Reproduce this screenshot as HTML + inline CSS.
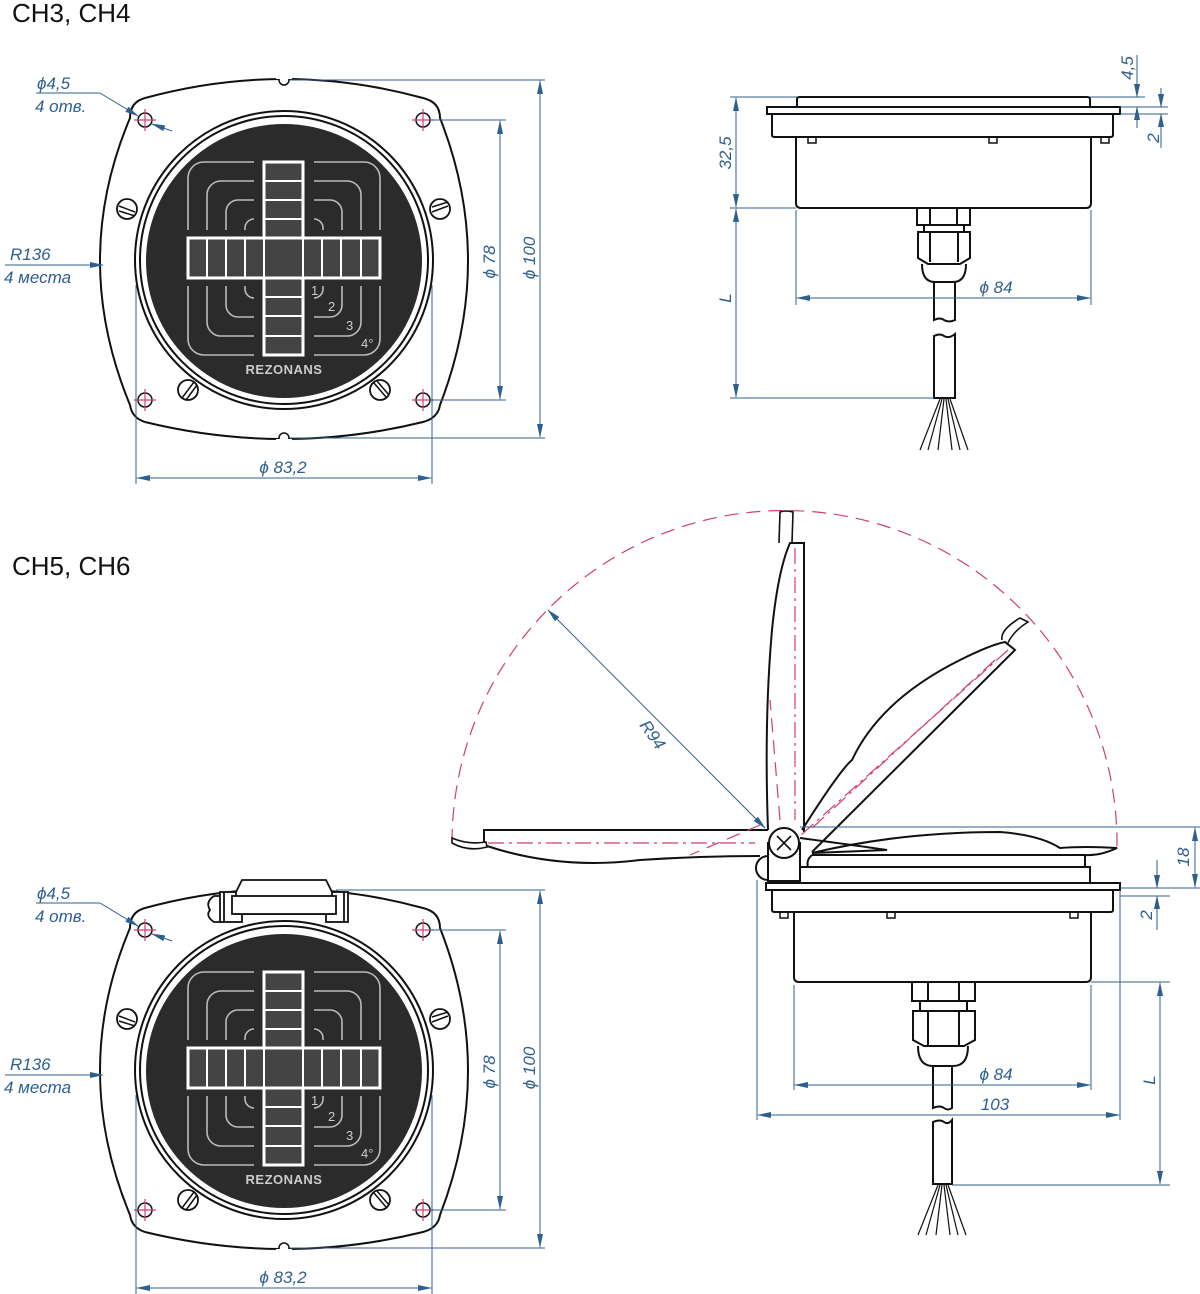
<!DOCTYPE html>
<html><head><meta charset="utf-8"><style>
html,body{margin:0;padding:0;background:#fff;}
svg{display:block;}
.k{fill:none;stroke:#111;stroke-width:2;}
.kt{fill:none;stroke:#111;stroke-width:1.2;}
.d{fill:none;stroke:#2f5f8f;stroke-width:1;}
.p{fill:none;stroke:#d23c78;stroke-width:1.2;}
.pd{fill:none;stroke:#d23c78;stroke-width:1.2;stroke-dasharray:14 8;}
.pdd{fill:none;stroke:#d23c78;stroke-width:1.2;stroke-dasharray:16 5 3 5;}
.t{font-family:"Liberation Sans",sans-serif;font-style:italic;font-size:17px;fill:#2f5f8f;}
.h{font-family:"Liberation Sans",sans-serif;font-size:26px;fill:#111;}
.br{fill:none;stroke:#bbb;stroke-width:1.6;}
.a{fill:#2f5f8f;}
</style></head><body>
<svg width="1200" height="1294" viewBox="0 0 1200 1294" xmlns="http://www.w3.org/2000/svg">
<defs>
<marker id="ar" markerWidth="14" markerHeight="6" refX="13" refY="3" orient="auto-start-reverse" markerUnits="userSpaceOnUse"><path d="M0,0 L14,3 L0,6 z" fill="#2f5f8f"/></marker>
</defs>

<text class="h" x="12" y="22">CH3, CH4</text>
<text class="h" x="12" y="575">CH5, CH6</text>

<!-- ===== FRONT VIEW TOP ===== -->
<g id="fv1">
<path class="k" d="M145,98 Q284,60 423,98 Q440,102 440,118 Q496,260 440,405 Q438,418 423,422 Q284,456 145,422 Q132,418 130,405 Q70,260 130,118 Q130,102 145,98 Z"/>
<circle cx="284" cy="80" r="5" fill="#fff" stroke="#111" stroke-width="1.5"/>
<rect x="276" y="70" width="16" height="9" fill="#fff"/>
<circle cx="284" cy="438" r="5" fill="#fff" stroke="#111" stroke-width="1.5"/>
<rect x="276" y="439" width="16" height="9" fill="#fff"/>
<ellipse cx="284" cy="260" rx="149" ry="149" class="k"/>
<ellipse cx="284" cy="260" rx="144" ry="144" class="k"/>
<ellipse cx="284" cy="261" rx="138" ry="137" fill="#2b2b2b"/>
<g class="br">
<rect x="188" y="162" width="192" height="193" rx="16"/>
<rect x="207" y="181" width="154" height="155" rx="14"/>
<rect x="226" y="200" width="116" height="117" rx="12"/>
<rect x="245" y="219" width="78" height="79" rx="9"/>
</g>
<rect x="254" y="154" width="60" height="210" fill="#2b2b2b"/>
<rect x="180" y="230" width="208" height="56" fill="#2b2b2b"/>
<rect x="264" y="162" width="39" height="193" fill="#444" stroke="#fff" stroke-width="3"/>
<rect x="188" y="238" width="192" height="40" fill="#444" stroke="#fff" stroke-width="3"/>
<g stroke="#fff" stroke-width="2">
<line x1="264" y1="181" x2="303" y2="181"/><line x1="264" y1="200" x2="303" y2="200"/><line x1="264" y1="219" x2="303" y2="219"/>
<line x1="264" y1="297" x2="303" y2="297"/><line x1="264" y1="316" x2="303" y2="316"/><line x1="264" y1="336" x2="303" y2="336"/>
<line x1="207" y1="238" x2="207" y2="278"/><line x1="226" y1="238" x2="226" y2="278"/><line x1="245" y1="238" x2="245" y2="278"/>
<line x1="322" y1="238" x2="322" y2="278"/><line x1="341" y1="238" x2="341" y2="278"/><line x1="361" y1="238" x2="361" y2="278"/>
<line x1="264" y1="238" x2="264" y2="278"/><line x1="303" y1="238" x2="303" y2="278"/>
</g>
<g font-family="Liberation Sans,sans-serif" font-size="13" fill="#ccc">
<text x="311" y="295">1</text><text x="328" y="311">2</text><text x="346" y="330">3</text><text x="361" y="348">4°</text>
</g>
<text x="284" y="374" text-anchor="middle" font-family="Liberation Sans,sans-serif" font-weight="bold" font-size="13" fill="#ccc" letter-spacing="0.5">REZONANS</text>
<g fill="#fff" stroke="#111" stroke-width="1.8">
<circle cx="127" cy="209" r="10"/><circle cx="440" cy="209" r="10"/><circle cx="188" cy="390" r="10"/><circle cx="380" cy="390" r="10"/>
</g>
<g stroke="#111" stroke-width="1.5">
<line x1="119" y1="206" x2="135" y2="212"/><line x1="119" y1="211" x2="135" y2="216"/>
<line x1="432" y1="212" x2="448" y2="206"/><line x1="432" y1="207" x2="448" y2="202"/>
<line x1="182" y1="398" x2="194" y2="382"/><line x1="186" y1="400" x2="197" y2="385"/>
<line x1="374" y1="383" x2="386" y2="397"/><line x1="377" y1="381" x2="389" y2="395"/>
</g>
<g fill="#fff" stroke="#111" stroke-width="1.5">
<circle cx="145" cy="120" r="7"/><circle cx="423" cy="120" r="7"/><circle cx="145" cy="400" r="7"/><circle cx="423" cy="400" r="7"/>
</g>
<g class="p">
<path d="M134,120 H156 M145,109 V131 M412,120 H434 M423,109 V131 M134,400 H156 M145,389 V411 M412,400 H434 M423,389 V411"/>
</g>
</g>

<!-- dims top front -->
<g class="d">
<line x1="36" y1="93" x2="100" y2="93"/>
<line x1="100" y1="93" x2="138" y2="116" marker-end="url(#ar)"/>
<line x1="152" y1="124" x2="172" y2="131" marker-start="url(#ar)"/>
<line x1="5" y1="265" x2="103" y2="265" marker-end="url(#ar)"/>
<line x1="290" y1="80" x2="545" y2="80"/>
<line x1="290" y1="438" x2="545" y2="438"/>
<line x1="430" y1="120" x2="506" y2="120"/>
<line x1="430" y1="400" x2="506" y2="400"/>
<line x1="500" y1="121" x2="500" y2="399" marker-start="url(#ar)" marker-end="url(#ar)"/>
<line x1="540" y1="81" x2="540" y2="437" marker-start="url(#ar)" marker-end="url(#ar)"/>
<line x1="136" y1="285" x2="136" y2="484"/>
<line x1="432" y1="285" x2="432" y2="484"/>
<line x1="137" y1="478" x2="431" y2="478" marker-start="url(#ar)" marker-end="url(#ar)"/>
</g>
<text class="t" x="37" y="89">ϕ4,5</text>
<text class="t" x="35" y="112">4 отв.</text>
<text class="t" x="10" y="260">R136</text>
<text class="t" x="4" y="283">4 места</text>
<text class="t" transform="translate(495,262) rotate(-90)" text-anchor="middle">ϕ 78</text>
<text class="t" transform="translate(535,258) rotate(-90)" text-anchor="middle">ϕ 100</text>
<text class="t" x="283" y="473" text-anchor="middle">ϕ 83,2</text>

<!-- ===== SIDE VIEW TOP ===== -->
<g class="k">
<path d="M797,107 V99 Q797,97 800,97 H1087 Q1090,97 1090,99 V107"/>
<rect x="767" y="107" width="353" height="7"/>
<path d="M772,114 V135 Q772,137 775,137 H1110 Q1113,137 1113,135 V114"/>
<path d="M796,137 V203 Q796,208 801,208 H1086 Q1091,208 1091,203 V137"/>
<path d="M808,137 V143 H816 V137 M989,137 V143 H997 V137 M1101,137 V143 H1109 V137" stroke-width="1.5"/>
<rect x="917" y="208" width="53" height="17"/>
<line x1="930" y1="208" x2="930" y2="225"/><line x1="957" y1="208" x2="957" y2="225"/>
<rect x="924" y="225" width="40" height="7"/>
<path d="M918,232 H970 V258 L960,264 H928 L918,258 Z"/>
<line x1="930" y1="232" x2="930" y2="262"/><line x1="958" y1="232" x2="958" y2="262"/>
<path d="M922,264 Q922,282 935,282 H953 Q966,282 966,264"/>
<path d="M934,282 V320 Q940,317 944,320 Q949,323 955,320 V282"/>
<path d="M934,398 V336 Q940,333 944,336 Q949,339 955,334 V398 Z"/>
</g>
<g class="kt">
<path d="M940,399 L920,450 M942,399 L928,450 M944,399 L938,450 M946,399 L952,450 M948,399 L960,450 M950,399 L968,450"/>
</g>
<g class="d">
<line x1="730" y1="97" x2="797" y2="97"/>
<line x1="730" y1="208" x2="796" y2="208"/>
<line x1="730" y1="398" x2="934" y2="398"/>
<line x1="736" y1="98" x2="736" y2="207" marker-start="url(#ar)" marker-end="url(#ar)"/>
<line x1="736" y1="209" x2="736" y2="397" marker-start="url(#ar)" marker-end="url(#ar)"/>
<line x1="796" y1="210" x2="796" y2="305"/>
<line x1="1091" y1="210" x2="1091" y2="305"/>
<line x1="797" y1="298" x2="1090" y2="298" marker-start="url(#ar)" marker-end="url(#ar)"/>
<line x1="1090" y1="97" x2="1145" y2="97"/>
<line x1="1120" y1="107" x2="1168" y2="107"/>
<line x1="1120" y1="114" x2="1168" y2="114"/>
<line x1="1137" y1="55" x2="1137" y2="97" marker-end="url(#ar)"/>
<line x1="1137" y1="128" x2="1137" y2="107" marker-end="url(#ar)"/>
<line x1="1161" y1="88" x2="1161" y2="107" marker-end="url(#ar)"/>
<line x1="1161" y1="148" x2="1161" y2="114" marker-end="url(#ar)"/>
</g>
<text class="t" transform="translate(731,153) rotate(-90)" text-anchor="middle">32,5</text>
<text class="t" transform="translate(731,298) rotate(-90)" text-anchor="middle">L</text>
<text class="t" x="996" y="293" text-anchor="middle">ϕ 84</text>
<text class="t" transform="translate(1133,68) rotate(-90)" text-anchor="middle">4,5</text>
<text class="t" transform="translate(1159,138) rotate(-90)" text-anchor="middle">2</text>

<!-- ===== FRONT VIEW BOTTOM ===== -->
<g transform="translate(0,810)">
<path class="k" d="M145,98 Q284,60 423,98 Q440,102 440,118 Q496,260 440,405 Q438,418 423,422 Q284,456 145,422 Q132,418 130,405 Q70,260 130,118 Q130,102 145,98 Z"/>
<circle cx="284" cy="438" r="5" fill="#fff" stroke="#111" stroke-width="1.5"/>
<rect x="276" y="439" width="16" height="9" fill="#fff"/>
<ellipse cx="284" cy="260" rx="149" ry="149" class="k"/>
<ellipse cx="284" cy="260" rx="144" ry="144" class="k"/>
<ellipse cx="284" cy="261" rx="138" ry="137" fill="#2b2b2b"/>
<g class="br">
<rect x="188" y="162" width="192" height="193" rx="16"/>
<rect x="207" y="181" width="154" height="155" rx="14"/>
<rect x="226" y="200" width="116" height="117" rx="12"/>
<rect x="245" y="219" width="78" height="79" rx="9"/>
</g>
<rect x="254" y="154" width="60" height="210" fill="#2b2b2b"/>
<rect x="180" y="230" width="208" height="56" fill="#2b2b2b"/>
<rect x="264" y="162" width="39" height="193" fill="#444" stroke="#fff" stroke-width="3"/>
<rect x="188" y="238" width="192" height="40" fill="#444" stroke="#fff" stroke-width="3"/>
<g stroke="#fff" stroke-width="2">
<line x1="264" y1="181" x2="303" y2="181"/><line x1="264" y1="200" x2="303" y2="200"/><line x1="264" y1="219" x2="303" y2="219"/>
<line x1="264" y1="297" x2="303" y2="297"/><line x1="264" y1="316" x2="303" y2="316"/><line x1="264" y1="336" x2="303" y2="336"/>
<line x1="207" y1="238" x2="207" y2="278"/><line x1="226" y1="238" x2="226" y2="278"/><line x1="245" y1="238" x2="245" y2="278"/>
<line x1="322" y1="238" x2="322" y2="278"/><line x1="341" y1="238" x2="341" y2="278"/><line x1="361" y1="238" x2="361" y2="278"/>
<line x1="264" y1="238" x2="264" y2="278"/><line x1="303" y1="238" x2="303" y2="278"/>
</g>
<g font-family="Liberation Sans,sans-serif" font-size="13" fill="#ccc">
<text x="311" y="295">1</text><text x="328" y="311">2</text><text x="346" y="330">3</text><text x="361" y="348">4°</text>
</g>
<text x="284" y="374" text-anchor="middle" font-family="Liberation Sans,sans-serif" font-weight="bold" font-size="13" fill="#ccc" letter-spacing="0.5">REZONANS</text>
<g fill="#fff" stroke="#111" stroke-width="1.8">
<circle cx="127" cy="209" r="10"/><circle cx="440" cy="209" r="10"/><circle cx="188" cy="390" r="10"/><circle cx="380" cy="390" r="10"/>
</g>
<g stroke="#111" stroke-width="1.5">
<line x1="119" y1="206" x2="135" y2="212"/><line x1="119" y1="211" x2="135" y2="216"/>
<line x1="432" y1="212" x2="448" y2="206"/><line x1="432" y1="207" x2="448" y2="202"/>
<line x1="182" y1="398" x2="194" y2="382"/><line x1="186" y1="400" x2="197" y2="385"/>
<line x1="374" y1="383" x2="386" y2="397"/><line x1="377" y1="381" x2="389" y2="395"/>
</g>
<g fill="#fff" stroke="#111" stroke-width="1.5">
<circle cx="145" cy="120" r="7"/><circle cx="423" cy="120" r="7"/><circle cx="145" cy="400" r="7"/><circle cx="423" cy="400" r="7"/>
</g>
<g class="p">
<path d="M134,120 H156 M145,109 V131 M412,120 H434 M423,109 V131 M134,400 H156 M145,389 V411 M412,400 H434 M423,389 V411"/>
</g>
<!-- hinge -->
<g stroke="#111" stroke-width="1.8" fill="#fff">
<path d="M214,86 Q205,92 210,100 Q205,106 214,112 H224 V86 Z"/>
<rect x="220" y="82" width="22" height="30"/>
<rect x="326" y="82" width="22" height="30"/>
<path d="M242,70 L236,82 V104 H332 V82 L326,70 Z"/>
<rect x="232" y="86" width="104" height="18"/>
<line x1="224" y1="82" x2="224" y2="112"/><line x1="344" y1="82" x2="344" y2="112"/>
</g>
</g>

<!-- dims bottom front -->
<g class="d">
<line x1="36" y1="903" x2="100" y2="903"/>
<line x1="100" y1="903" x2="138" y2="926" marker-end="url(#ar)"/>
<line x1="152" y1="934" x2="172" y2="941" marker-start="url(#ar)"/>
<line x1="5" y1="1075" x2="103" y2="1075" marker-end="url(#ar)"/>
<line x1="336" y1="890" x2="545" y2="890"/>
<line x1="290" y1="1248" x2="545" y2="1248"/>
<line x1="430" y1="930" x2="506" y2="930"/>
<line x1="430" y1="1210" x2="506" y2="1210"/>
<line x1="500" y1="931" x2="500" y2="1209" marker-start="url(#ar)" marker-end="url(#ar)"/>
<line x1="540" y1="891" x2="540" y2="1247" marker-start="url(#ar)" marker-end="url(#ar)"/>
<line x1="136" y1="1095" x2="136" y2="1294"/>
<line x1="432" y1="1095" x2="432" y2="1294"/>
<line x1="137" y1="1288" x2="431" y2="1288" marker-start="url(#ar)" marker-end="url(#ar)"/>
</g>
<text class="t" x="37" y="899">ϕ4,5</text>
<text class="t" x="35" y="922">4 отв.</text>
<text class="t" x="10" y="1070">R136</text>
<text class="t" x="4" y="1093">4 места</text>
<text class="t" transform="translate(495,1072) rotate(-90)" text-anchor="middle">ϕ 78</text>
<text class="t" transform="translate(535,1068) rotate(-90)" text-anchor="middle">ϕ 100</text>
<text class="t" x="283" y="1283" text-anchor="middle">ϕ 83,2</text>

<!-- ===== SIDE VIEW BOTTOM (hinged lid) ===== -->
<path class="pd" d="M452,843 A332.5,332.5 0 0 1 1117,843 V852"/>
<g class="k">
<path d="M768,830 H484 V843"/>
<path d="M452,843 Q468,852 487,847 L486,842 Q468,845 452,838 Z" stroke-width="1.6"/>
<path d="M487,846 Q560,870 640,860 Q700,856 760,856"/>
<path d="M768,830 Q764,720 772,630 Q778,570 790,543 H804 V832"/>
<path d="M792,543 L793,512 Q785,510 780,512 L779,543" stroke-width="1.6"/>
<path d="M802,830 Q840,770 852,760 Q880,700 960,660 Q990,645 1005,642 L1015,650 L812,852"/>
<path d="M1002,640 Q1000,630 1020,618 L1028,622 Q1012,632 1007,645" stroke-width="1.6"/>
<path d="M800,838 Q860,846 887,850 L812,853 Q900,832 1000,832 Q1040,835 1060,848 Q1085,846 1117,848 Q1100,856 1085,855 H812"/>
<path d="M812,855 Q806,860 808,867"/>
<line x1="800" y1="867" x2="1085" y2="867"/>
<path d="M1085,855 V867 H1090 V883"/>
<rect x="766" y="883" width="354" height="7"/>
<rect x="768" y="843" width="32" height="38" fill="#fff"/>
<path d="M768,856 A12,12 0 0 0 768,880"/>
<path d="M772,890 V910 Q772,912 775,912 H1110 Q1113,912 1113,910 V890"/>
<path d="M794,912 V977 Q794,982 799,982 H1086 Q1091,982 1091,977 V912"/>
<path d="M780,912 V918 H788 V912 M887,912 V918 H895 V912 M1070,912 V918 H1078 V912" stroke-width="1.5"/>
<rect x="912" y="982" width="63" height="19"/>
<line x1="928" y1="982" x2="928" y2="1001"/><line x1="959" y1="982" x2="959" y2="1001"/>
<rect x="920" y="1001" width="47" height="10"/>
<path d="M913,1011 H975 V1040 L964,1046 H924 L913,1040 Z"/>
<line x1="928" y1="1011" x2="928" y2="1046"/><line x1="959" y1="1011" x2="959" y2="1046"/>
<path d="M918,1046 Q918,1066 933,1066 H953 Q968,1066 968,1046"/>
<path d="M933,1066 V1108 Q940,1105 944,1108 Q948,1111 952,1108 V1066"/>
<path d="M933,1184 V1122 Q940,1119 944,1122 Q948,1125 952,1120 V1184 Z"/>
</g>
<circle cx="784" cy="843" r="15" fill="#fff" stroke="#111" stroke-width="2"/>
<path d="M777,836 L791,850 M791,836 L777,850" stroke="#111" stroke-width="1.6"/>
<g class="kt">
<path d="M938,1185 L918,1235 M940,1185 L926,1235 M942,1185 L936,1235 M944,1185 L950,1235 M946,1185 L958,1235 M948,1185 L966,1235"/>
</g>
<path class="pdd" d="M488,843 H755"/>
<path class="pdd" d="M795,548 V820"/>
<path class="pdd" d="M1008,650 L800,836"/>
<path class="pdd" d="M995,660 L810,830"/>
<path class="pd" d="M760,825 L690,855 M780,820 L770,700"/>
<line class="d" x1="548" y1="610" x2="765" y2="828" marker-start="url(#ar)" marker-end="url(#ar)" stroke="#333"/>
<text class="t" transform="translate(648,738) rotate(55)" text-anchor="middle">R94</text>
<g class="d">
<line x1="800" y1="827" x2="1200" y2="827"/>
<line x1="1120" y1="888" x2="1200" y2="888"/>
<line x1="1120" y1="896" x2="1170" y2="896"/>
<line x1="1195" y1="828" x2="1195" y2="887" marker-start="url(#ar)" marker-end="url(#ar)"/>
<line x1="1157" y1="860" x2="1157" y2="888" marker-end="url(#ar)"/>
<line x1="1157" y1="930" x2="1157" y2="896" marker-end="url(#ar)"/>
<line x1="1091" y1="982" x2="1170" y2="982"/>
<line x1="952" y1="1185" x2="1170" y2="1185"/>
<line x1="1160" y1="983" x2="1160" y2="1184" marker-start="url(#ar)" marker-end="url(#ar)"/>
<line x1="794" y1="985" x2="794" y2="1090"/>
<line x1="1091" y1="985" x2="1091" y2="1090"/>
<line x1="795" y1="1085" x2="1090" y2="1085" marker-start="url(#ar)" marker-end="url(#ar)"/>
<line x1="757" y1="880" x2="757" y2="1120"/>
<line x1="1120" y1="890" x2="1120" y2="1120"/>
<line x1="758" y1="1115" x2="1119" y2="1115" marker-start="url(#ar)" marker-end="url(#ar)"/>
</g>
<text class="t" transform="translate(1189,857) rotate(-90)" text-anchor="middle">18</text>
<text class="t" transform="translate(1152,915) rotate(-90)" text-anchor="middle">2</text>
<text class="t" transform="translate(1155,1080) rotate(-90)" text-anchor="middle">L</text>
<text class="t" x="996" y="1080" text-anchor="middle">ϕ 84</text>
<text class="t" x="995" y="1110" text-anchor="middle">103</text>
</svg>
</body></html>
